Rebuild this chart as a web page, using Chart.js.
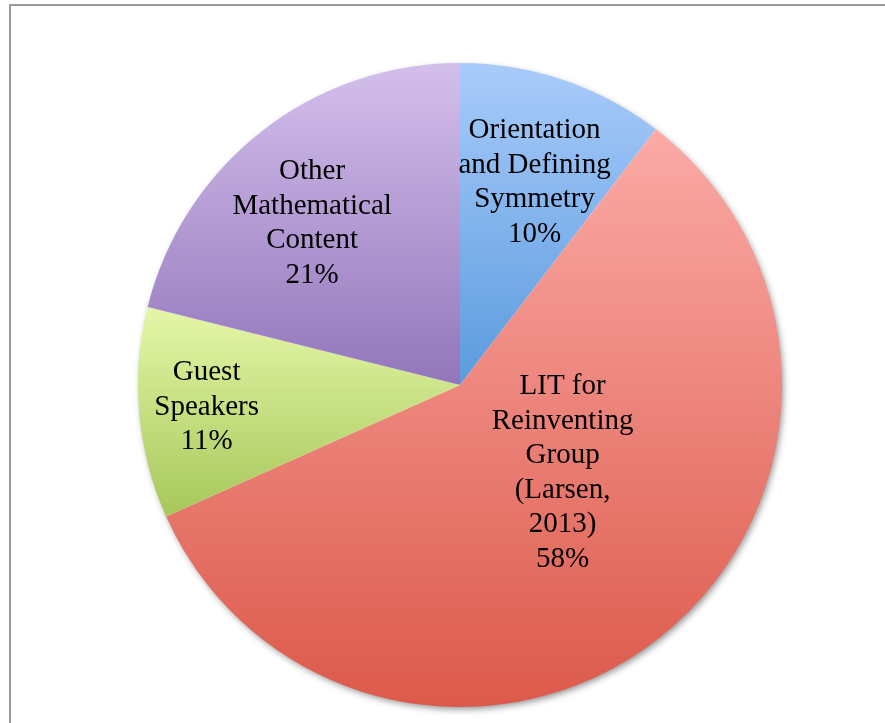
<!DOCTYPE html>
<html>
<head>
<meta charset="utf-8">
<script src="https://cdn.jsdelivr.net/npm/chart.js@4.4.0/dist/chart.umd.min.js"></script>
<style>
    html, body { margin: 0; padding: 0; background: #ffffff; }
    #wrap { position: relative; width: 885px; height: 723px; }
</style>
</head>
<body>
<div id="wrap"><canvas id="pieChart" width="885" height="723"></canvas></div>
<script>
// Chart data
const categories = [
    ['Orientation', 'and Defining', 'Symmetry'],
    ['LIT for', 'Reinventing', 'Group', '(Larsen,', '2013)'],
    ['Guest', 'Speakers'],
    ['Other', 'Mathematical', 'Content']
];
// shares; shown rounded as 10%, 58%, 11%, 21%
const shares = [10.4, 57.9, 10.6, 21.1];

// Gradient colours per slice (top, bottom)
const topColors = ['#a9cbfa', '#fbaaa6', '#e5f7a8', '#d4bfec'];
const bottomColors = ['#5b9bde', '#dc5a4b', '#a6c75a', '#9276ba'];

// Label placement relative to each slice (fraction of radius, angle tweak in degrees)
const labelRadius = [0.67, 0.42, 0.79, 0.68];
const labelAngleShift = [1.5, -11, 0, -4.5];

/**
 * Draws the grey frame at top and left
 */
const framePlugin = {
    id: 'frame',
    beforeDraw(chart) {
        const ctx = chart.ctx;
        ctx.save();
        ctx.strokeStyle = '#9a9a9a';
        ctx.lineWidth = 2;
        ctx.beginPath();
        ctx.moveTo(885, 5);
        ctx.lineTo(10, 5);
        ctx.lineTo(10, 723);
        ctx.stroke();
        ctx.restore();
    }
};

/**
 * Vertical gradient per slice, plus a soft shadow under the pie
 */
const sliceStylePlugin = {
    id: 'sliceStyle',
    beforeDatasetsDraw(chart) {
        const ctx = chart.ctx;
        const arcs = chart.getDatasetMeta(0).data;
        if (!arcs.length) return;

        arcs.forEach((arc, i) => {
            const p = arc.getProps(['x', 'y', 'startAngle', 'endAngle', 'outerRadius']);
            let minY = p.y, maxY = p.y;
            [p.startAngle, p.endAngle].forEach(a => {
                const yy = p.y + p.outerRadius * Math.sin(a);
                minY = Math.min(minY, yy);
                maxY = Math.max(maxY, yy);
            });
            // check top and bottom extremes inside the arc
            [-Math.PI / 2, Math.PI / 2].forEach(a => {
                for (let k = -2; k <= 2; k++) {
                    const t = a + k * 2 * Math.PI;
                    if (t >= p.startAngle && t <= p.endAngle) {
                        const yy = p.y + p.outerRadius * Math.sin(t);
                        minY = Math.min(minY, yy);
                        maxY = Math.max(maxY, yy);
                    }
                }
            });
            const g = ctx.createLinearGradient(0, minY, 0, maxY);
            g.addColorStop(0, topColors[i]);
            g.addColorStop(1, bottomColors[i]);
            arc.options.backgroundColor = g;
        });

        // shadow disc behind the slices
        const first = arcs[0];
        ctx.save();
        ctx.shadowColor = 'rgba(0, 0, 0, 0.45)';
        ctx.shadowBlur = 7;
        ctx.shadowOffsetX = 2;
        ctx.shadowOffsetY = 3;
        ctx.fillStyle = '#ffffff';
        ctx.beginPath();
        ctx.arc(first.x, first.y, first.outerRadius - 1, 0, Math.PI * 2);
        ctx.fill();
        ctx.restore();
    },
    afterDatasetsDraw(chart) {
        const ctx = chart.ctx;
        const arcs = chart.getDatasetMeta(0).data;
        const fontSize = 29;
        const lineHeight = 34.5;
        ctx.save();
        ctx.fillStyle = '#000000';
        ctx.font = fontSize + 'px "Liberation Serif", "Times New Roman", serif';
        ctx.textAlign = 'center';
        ctx.textBaseline = 'middle';
        arcs.forEach((arc, i) => {
            const mid = (arc.startAngle + arc.endAngle) / 2 + labelAngleShift[i] * Math.PI / 180;
            const r = arc.outerRadius * labelRadius[i];
            const cx = arc.x + r * Math.cos(mid);
            const cy = arc.y + r * Math.sin(mid);
            const lines = categories[i].concat([Math.round(shares[i]) + '%']);
            const startY = cy - (lines.length - 1) * lineHeight / 2;
            lines.forEach((line, j) => {
                ctx.fillText(line, cx, startY + j * lineHeight);
            });
        });
        ctx.restore();
    }
};

document.addEventListener('DOMContentLoaded', function() {
    const canvas = document.getElementById('pieChart');
    new Chart(canvas, {
        type: 'pie',
        data: {
            labels: categories.map(c => c.join(' ')),
            datasets: [{
                data: shares,
                backgroundColor: bottomColors,
                borderWidth: 0
            }]
        },
        options: {
            responsive: false,
            animation: false,
            layout: {
                padding: { left: 138, right: 103, top: 63, bottom: 16 }
            },
            plugins: {
                legend: { display: false },
                tooltip: { enabled: false },
                title: { display: false }
            }
        },
        plugins: [framePlugin, sliceStylePlugin]
    });
});
</script>
</body>
</html>
